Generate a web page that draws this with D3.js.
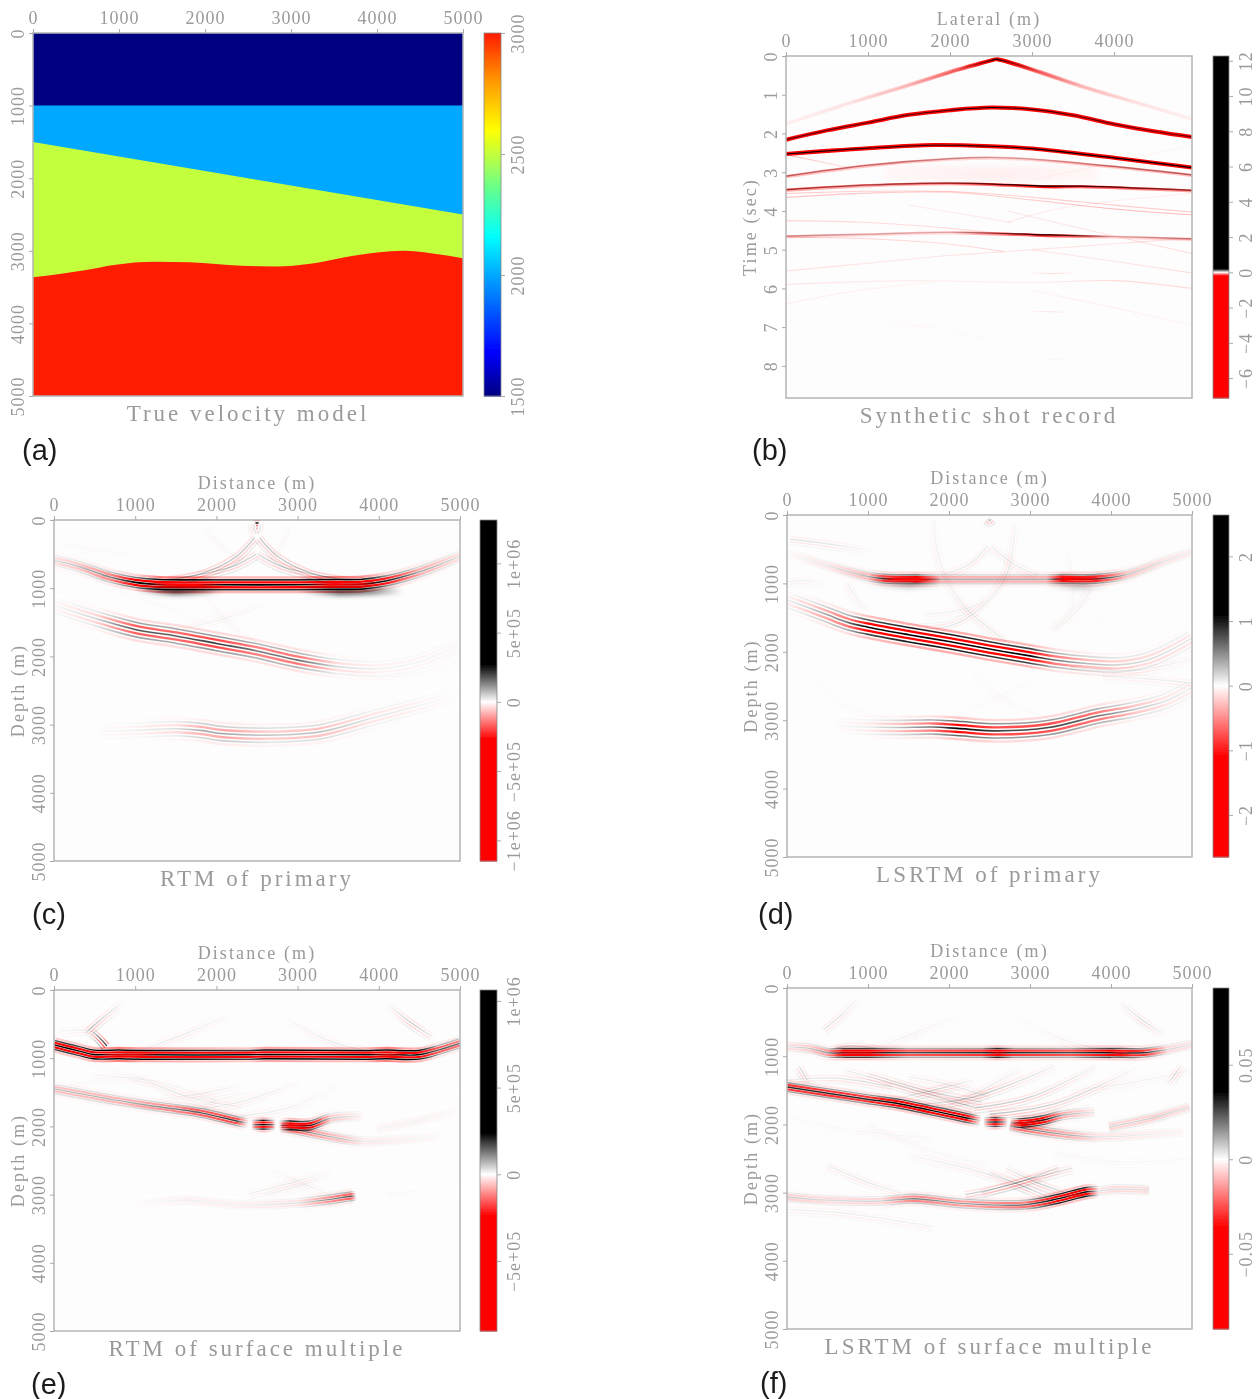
<!DOCTYPE html>
<html>
<head>
<meta charset="utf-8">
<script src="https://cdn.jsdelivr.net/npm/d3@7"></script>
<style>
  html, body { margin: 0; background: #fff; }
  text { font-family: "Liberation Serif", serif; fill: #9a9a9a; }
  .tag { font-family: "Liberation Sans", sans-serif; fill: #1c1c1c; font-size: 29px; }
  .tick text { font-size: 18px; letter-spacing: 1px; }
  .axlab { font-size: 18px; letter-spacing: 2.1px; }
  .title { font-size: 23px; letter-spacing: 3px; }
  .domain { stroke: #b4b4b4; }
  .tick line { stroke: #aaa; }
</style>
</head>
<body>
<svg id="fig" width="1257" height="1399"></svg>
<script>
// ---- tick labels and axis ranges
var distTicks = [0, 1000, 2000, 3000, 4000, 5000];
var lateralTicks = [0, 1000, 2000, 3000, 4000];
var timeTicks = [0, 1, 2, 3, 4, 5, 6, 7, 8];

var velTicks = [1500, 2000, 2500, 3000];
var barB = [12, 10, 8, 6, 4, 2, 0, -2, -4, -6];
var barC = [1e6, 5e5, 0, -5e5, -1e6];
var barCLabels = ['1e+06', '5e+05', '0', '\u22125e+05', '\u22121e+06'];
var barD = [2, 1, 0, -1, -2];
var barE = [1e6, 5e5, 0, -5e5];
var barELabels = ['1e+06', '5e+05', '0', '\u22125e+05'];
var barF = [0.05, 0, -0.05];
var barFLabels = ['0.05', '0', '\u22120.05'];

// ---- velocity model (a)
var layerVel = [1500, 2000, 2500, 3000];
var layerTop0 = [[0, 0], [5000, 0]];
var layerTop1 = [[0, 1000], [5000, 1000]];
var layerTop2 = [[0, 1500], [5000, 2500]];
var layerTop3 = [[0, 3364], [620, 3263], [940, 3194], [1420, 3150], [1823, 3157], [2424, 3207],
                 [2825, 3217], [3225, 3180], [3626, 3088], [4026, 3019], [4307, 3001], [4627, 3033], [5000, 3102]];
var jetVals = [1500, 1680, 2000, 2159, 2350, 2500, 2600, 2800, 3000];
var jetCols = ['#000080', '#0000ff', '#00a8ff', '#00ffff', '#60ff90', '#c4ff3c', '#ffff00', '#ff9900', '#ff1a00'];

// ---- events are [x, depth or time, amplitude]
// shot record (b)
var bDirectL = [[0, 1.75, 0.008], [800, 1.2, 0.015], [1500, 0.75, 0.04], [2100, 0.35, 0.1], [2400, 0.17, 0.45], [2560, 0.08, 2]];
var bDirectR = [[2560, 0.08, 2], [2720, 0.16, 0.45], [3100, 0.42, 0.1], [3600, 0.78, 0.04], [4300, 1.22, 0.015], [4950, 1.63, 0.008]];
var bRefl1 = [[0, 2.16, 0.6], [500, 1.92, 0.6], [1000, 1.72, 0.6], [1500, 1.52, 0.65], [2000, 1.4, 0.8], [2500, 1.33, 1],
              [3000, 1.38, 0.8], [3500, 1.53, 0.65], [4000, 1.76, 0.6], [4500, 1.95, 0.6], [4950, 2.09, 0.6]];
var bRefl2 = [[0, 2.53, 1], [500, 2.45, 0.9], [1000, 2.38, 0.8], [1800, 2.3, 0.7], [2500, 2.33, 0.9], [3000, 2.39, 1],
              [4000, 2.63, 1], [4950, 2.88, 1]];
var bRefl3 = [[0, 3.1, 0.1], [1000, 2.82, 0.09], [2000, 2.65, 0.07], [2500, 2.62, 0.06], [3000, 2.66, 0.06], [4000, 2.85, 0.09], [4950, 3.07, 0.1]];
var bRefl4 = [[0, 3.45, 0.14], [1000, 3.33, 0.12], [2000, 3.28, 0.14], [2700, 3.32, 0.25], [3200, 3.36, 1], [3600, 3.36, 0.25], [4950, 3.47, 0.14]];
var bRefl5 = [[0, 4.65, 0.07], [1000, 4.6, 0.05], [2000, 4.55, 0.05], [3200, 4.62, 0.3], [4000, 4.66, 0.05], [4950, 4.72, 0.08]];
var bWeak = [
  [[0, 3.65, 0.07], [1000, 3.54, 0.06], [2000, 3.52, 0.05], [3000, 3.72, 0.06], [4000, 3.95, 0.08], [4950, 4.1, 0.08]],
  [[0, 3.55, 0.07], [1000, 3.49, 0.05], [2000, 3.5, 0.06], [3000, 3.65, 0.05], [4000, 3.85, 0.06], [4950, 4.03, 0.07]],
  [[0, 4.25, 0.05], [1000, 4.3, 0.04], [2000, 4.45, 0.04], [2800, 4.62, 0.04]],
  [[0, 4.68, 0.05], [1000, 4.72, 0.05], [2000, 4.86, 0.04], [2650, 5.05, 0.05]],
  [[0, 5.55, 0.04], [1000, 5.35, 0.03], [2000, 5.15, 0.03], [2700, 5.05, 0.03], [4000, 4.85, 0.03], [4950, 4.7, 0.04]],
  [[2700, 4.0, 0.03], [3800, 4.55, 0.03], [4950, 5.1, 0.04]],
  [[3000, 5.0, 0.03], [4000, 5.3, 0.03], [4950, 5.6, 0.04]],
  [[1500, 3.85, 0.02], [2200, 4.1, 0.025], [2750, 4.3, 0.03]],
  [[2700, 4.3, 0.03], [3300, 3.95, 0.02], [4950, 3.55, 0.02]],
  [[0, 5.9, 0.03], [1500, 5.8, 0.02], [3000, 5.85, 0.02], [4000, 5.8, 0.04], [4950, 6, 0.04]],
  [[3000, 5.6, 0.01], [3250, 5.62, 0.04], [3500, 5.6, 0.01]],
  [[3000, 6.6, 0.01], [3200, 6.6, 0.03], [3400, 6.62, 0.01]],
  [[3000, 7.85, 0.005], [3300, 7.84, 0.015], [3500, 7.85, 0.005]],
  [[0, 6.4, 0.02], [900, 6.05, 0.02], [1800, 5.85, 0.012]],
  [[3000, 6.05, 0.015], [4000, 6.5, 0.02], [4950, 6.95, 0.012]],
  [[0, 2.55, 0.08], [350, 2.7, 0.06], [750, 2.88, 0.03]],
  [[3000, 3.2, 0.012], [4000, 2.75, 0.012], [4950, 2.3, 0.012]],
  [[0, 7.1, 0.006], [2500, 6.95, 0.008], [4950, 7.2, 0.006]],
  [[0, 8.2, 0.004], [2500, 8.05, 0.006], [4950, 8.3, 0.004]],
  [[800, 6.6, 0.006], [2200, 7.2, 0.008], [3600, 7.6, 0.005]],
  [[2000, 6.1, 0.006], [3400, 6.3, 0.006], [4950, 6.2, 0.006]]
];
var bHaze = [[1200, 3.02, -0.006], [2500, 3.05, -0.012], [3800, 3.02, -0.006]];

// RTM of primary (c)
var cFlat = [[0, 590, 3.5e4], [300, 680, 6e4], [700, 840, 1.3e5], [1000, 915, 3e5], [1300, 945, 9e5], [1700, 950, 9e5], [2000, 950, 5e5],
             [3000, 950, 5e5], [3400, 945, 9e5], [3800, 940, 8e5], [4100, 890, 2.5e5], [4500, 760, 9e4], [5000, 530, 3e4]];
var cDip = [[0, 1250, 5e3], [500, 1440, 3e4], [1000, 1605, 1.3e5], [1500, 1700, 1.2e5], [2000, 1810, 1.5e5], [2500, 1920, 1e5],
            [3000, 2055, 1.1e5], [3500, 2150, 2.5e4], [4000, 2180, 1e4], [4500, 2080, 8e3], [5000, 1810, 5e3]];
var cDeep = [[575, 3100, 4e3], [1000, 3085, 1e4], [1500, 3060, 2.5e4], [1800, 3085, 6e4], [2100, 3135, 7e4], [2660, 3155, 4e4],
             [3285, 3105, 5e4], [3900, 2910, 2e4], [4740, 2640, 5e3], [5000, 2530, 2e3]];
var cSoft = [
  [[1000, 1000, 0], [1500, 1045, 2e5], [1900, 1030, 8e4], [2100, 1010, 0]],
  [[3000, 1010, 0], [3500, 1055, 1.8e5], [3900, 1045, 1.5e5], [4300, 1040, 0]]
];
var cHot = [
  [[1150, 935, 0], [1400, 945, 2.7e5], [1750, 950, 2.7e5], [2100, 950, 0]],
  [[3100, 950, 0], [3400, 945, 2.7e5], [3800, 942, 2e5], [4000, 925, 0]]
];
var cArcs = [
  [[2480, 50, 3e5], [2500, 40, 5e5], [2520, 50, 3e5]],
  [[2470, 60, 3e4], [2460, 130, 5e4], [2490, 200, 5e4]],
  [[2530, 60, 3e4], [2540, 130, 5e4], [2510, 200, 5e4]],
  [[1408, 880, 6e4], [1825, 783, 1e5], [2242, 538, 9e4], [2470, 260, 8e4]],
  [[2530, 260, 8e4], [2760, 538, 9e4], [3175, 783, 1e5], [3590, 880, 6e4]],
  [[1300, 880, 4e4], [1700, 820, 7e4], [2200, 680, 9e4], [2490, 500, 6e4]],
  [[2510, 500, 6e4], [2800, 680, 9e4], [3300, 820, 7e4], [3700, 880, 4e4]],
  [[1900, 100, 1.2e4], [2000, 300, 1.6e4], [2300, 600, 1.6e4]],
  [[2900, 100, 1.2e4], [2850, 300, 1.6e4], [2650, 600, 1.6e4]],
  [[2600, 1250, 1.2e4], [2000, 1480, 2e4], [1400, 1650, 2e4]],
  [[1900, 1100, 1e4], [2100, 1450, 1.6e4], [2500, 1800, 1e4]],
  [[700, 1000, 8e3], [1300, 1250, 8e3], [1900, 1500, 8e3]],
  [[100, 350, 1e4], [500, 420, 1.2e4], [1000, 520, 6e3]],
  [[3400, 150, 4e3], [3800, 300, 4e3], [4300, 520, 4e3]],
  [[3300, 1400, 4e3], [3800, 1150, 4e3], [4500, 1000, 4e3]],
  [[3600, 2250, 8e3], [4300, 2290, 8e3], [5000, 2060, 8e3]],
  [[1200, 2200, 3e3], [2200, 2700, 3e3], [3000, 2900, 2e3]],
  [[4200, 2300, 3e3], [3500, 2600, 3e3], [2900, 3000, 2e3]],
  [[3900, 1700, 4e3], [4400, 1850, 4e3], [5000, 2400, 3e3]]
];

// LSRTM of primary (d)
var dFlat = [[0, 560, 0.02], [500, 740, 0.1], [1000, 900, 0.3], [1200, 930, 0.9], [1600, 940, 1.2], [1900, 940, 0.35], [3200, 940, 0.35],
             [3400, 935, 1.1], [3800, 935, 1], [4200, 870, 0.25], [4600, 700, 0.12], [5000, 540, 0.07]];
var dDip = [[0, 1240, 0.06], [250, 1350, 0.2], [500, 1460, 0.4], [750, 1570, 0.6], [1000, 1640, 1.4], [1500, 1750, 1.8], [2000, 1850, 1.8],
            [2500, 1960, 1.6], [3000, 2060, 1.5], [3300, 2120, 0.6], [3700, 2170, 0.3], [4100, 2190, 0.2], [4500, 2100, 0.15], [5000, 1800, 0.1]];
var dDeep = [[600, 3080, 0.02], [1000, 3100, 0.08], [1367, 3107, 0.25], [1800, 3100, 0.6], [2100, 3120, 1.2], [2610, 3156, 0.8],
             [3230, 3107, 0.8], [3850, 2936, 0.6], [4300, 2840, 0.25], [4680, 2717, 0.12], [5000, 2520, 0.06]];
var dSoft = [
  [[1000, 990, 0], [1500, 1020, 0.3], [1900, 1010, 0]],
  [[3200, 1010, 0], [3600, 1040, 0.25], [4000, 1030, 0]]
];
var dHot = [
  [[1150, 935, 0], [1350, 940, 1.1], [1650, 942, 1.1], [1900, 942, 0]],
  [[3250, 940, 0], [3450, 935, 1.1], [3750, 935, 0.8], [3950, 930, 0]]
];
var dArcs = [
  [[1820, 80, 0.05], [1850, 500, 0.08], [2000, 1000, 0.08], [2200, 1350, 0.12], [2700, 1850, 0.12]],
  [[2820, 150, 0.06], [2730, 815, 0.14], [2530, 1200, 0.1], [2070, 1600, 0.14], [1490, 1680, 0.12]],
  [[745, 1000, 0.08], [850, 1200, 0.08], [1000, 1400, 0.05]],
  [[3480, 570, 0.03], [3530, 1000, 0.05], [3500, 1400, 0.05], [3270, 1690, 0.06]],
  [[3750, 1060, 0.08], [3650, 1300, 0.08], [3300, 1700, 0.05]],
  [[40, 350, 0.15], [500, 420, 0.14], [1035, 520, 0.03]],
  [[1900, 880, 0.1], [2250, 720, 0.12], [2480, 450, 0.1]],
  [[2520, 450, 0.1], [2800, 720, 0.12], [3100, 880, 0.1]],
  [[2480, 60, 0.4], [2500, 90, 0.25], [2520, 60, 0.4]],
  [[3900, 2360, 0.08], [4500, 2400, 0.1], [5000, 2460, 0.1]],
  [[3500, 2220, 0.12], [4300, 2270, 0.1], [5000, 2100, 0.06]],
  [[1500, 3300, 0.015], [2700, 2600, 0.04], [3300, 2300, 0.015]],
  [[2300, 2300, 0.03], [2700, 2700, 0.04], [3300, 3000, 0.015]],
  [[0, 1800, 0.015], [600, 2700, 0.03], [1500, 3050, 0.03]],
  [[0, 980, 0.08], [200, 960, 0.1], [500, 1000, 0.01]],
  [[4050, 4300, 0.01], [4400, 4380, 0.015], [4800, 4400, 0.01]],
  [[3000, 1550, 0.02], [3900, 1500, 0.025], [5000, 1100, 0.02]],
  [[600, 2000, 0.015], [1500, 2500, 0.02], [2400, 2800, 0.015]],
  [[1700, 1450, 0.06], [2100, 1400, 0.08], [2500, 1250, 0.04]]
];

// RTM of surface multiple (e)
var eFlat = [[0, 805, 4e5], [325, 900, 4e5], [490, 945, 6e5], [800, 945, 1e6], [1100, 950, 7e5], [2400, 950, 4e5], [2600, 945, 7e5],
             [3800, 950, 5e5], [4100, 945, 1e6], [4490, 950, 6e5], [4740, 878, 1.6e5], [5000, 780, 1.3e5]];
var eDip = [[0, 1450, 6e4], [990, 1660, 8e4], [1500, 1745, 1.2e5], [1825, 1805, 1.6e5], [2250, 1920, 1.8e5], [2390, 1955, 1e4]];
var eBlob1 = [[2430, 1975, 1e4], [2480, 1975, 1.5e5], [2575, 1975, 5e5], [2680, 1975, 1.5e5], [2730, 1975, 1e4]];
var eBlob2 = [[2770, 1985, 1e4], [2820, 1985, 1.5e5], [2908, 1985, 5e5], [3158, 1985, 3e5], [3408, 1880, 5e4], [3800, 1850, 1e4]];
var eLower = [[2800, 2010, 5e4], [2990, 2050, 1.2e5], [3490, 2170, 6e4], [3825, 2220, 2e4], [4740, 2147, 6e3]];
var eUpper = [[3975, 2040, 1e4], [4533, 1903, 1.2e4], [4950, 1780, 6e3]];
var eDeep = [[990, 3148, 3e3], [1617, 3084, 1.4e4], [2240, 3148, 1.4e4], [2990, 3123, 2.5e4], [3400, 3070, 1.1e5], [3658, 3025, 1.6e5], [3720, 3020, 1e4]];
var eHot = [
  [[550, 950, 0], [750, 950, 2e5], [1050, 950, 2e5], [1300, 950, 0]],
  [[3900, 950, 0], [4100, 950, 2e5], [4350, 950, 0]],
  [[2780, 1985, 0], [2900, 1985, 2.4e5], [3050, 1985, 2e5], [3200, 1970, 0]]
];
var eArcs = [
  [[40, 620, 1e4], [250, 590, 2e4], [452, 600, 3e4], [650, 820, 3e5]],
  [[380, 640, 2e4], [452, 560, 1e5], [640, 370, 5e4], [862, 161, 8e3]],
  [[4117, 220, 1.2e4], [4408, 488, 8e4], [4658, 683, 3e4]],
  [[1075, 880, 2e4], [1600, 650, 3e4], [2160, 366, 1e4]],
  [[2866, 415, 1e4], [3408, 756, 3e4], [3908, 900, 3e4]],
  [[1000, 1250, 1e4], [1600, 1550, 2e4], [2300, 1720, 2e4]],
  [[500, 1250, 1e4], [1300, 1350, 1.5e4], [2000, 1620, 2e4]],
  [[1300, 1600, 1e4], [1900, 1500, 3e4], [2300, 1400, 1e4]],
  [[1700, 1750, 1e4], [2300, 1640, 3e4], [3000, 1350, 1e4]],
  [[2300, 1850, 3e4], [2900, 1720, 2e4], [3500, 1400, 1e4]],
  [[2400, 2990, 2e4], [3000, 2800, 3e4], [3400, 2650, 1e4]],
  [[2700, 2650, 1e4], [3100, 2850, 2e4], [3400, 3000, 1e4]],
  [[0, 3080, 5e3], [500, 3200, 4e3], [1000, 3500, 4e3]],
  [[4100, 2980, 1e4], [4500, 2950, 6e3], [5000, 3000, 2e3]],
  [[3400, 1400, 4e3], [4200, 1300, 5e3], [4900, 1100, 3e3]],
  [[800, 2000, 3e3], [1700, 2400, 4e3], [2600, 2700, 3e3]],
  [[0, 1000, 3e3], [700, 1150, 8e3], [1500, 1500, 6e3]],
  [[200, 1400, 1.2e4], [600, 1300, 1e4], [1100, 1280, 6e3]],
  [[3700, 1700, 4e3], [4400, 1650, 4e3], [5000, 1500, 3e3]],
  [[900, 1300, 8e3], [1400, 1450, 1.2e4], [1900, 1750, 1e4]],
  [[1600, 1800, 8e3], [2000, 1620, 2e4], [2500, 1480, 8e3]],
  [[2600, 3000, 1.2e4], [2950, 2890, 2e4], [3250, 2780, 1e4]]
];

// LSRTM of surface multiple (f)
var fFlat = [[0, 860, 0.004], [300, 890, 0.008], [500, 950, 0.015], [700, 950, 0.06], [1000, 950, 0.06], [1500, 950, 0.025], [2400, 950, 0.03],
             [2600, 950, 0.07], [2800, 950, 0.03], [3500, 950, 0.025], [4000, 950, 0.06], [4400, 950, 0.03], [4700, 900, 0.006], [5000, 830, 0.004]];
var fDip = [[0, 1452, 0.03], [953, 1623, 0.03], [1400, 1700, 0.055], [1780, 1794, 0.05], [2220, 1905, 0.05], [2390, 1945, 0.004]];
var fBlob1 = [[2430, 1965, 0.004], [2480, 1965, 0.02], [2570, 1965, 0.06], [2660, 1965, 0.02], [2720, 1965, 0.004]];
var fBlob2 = [[2760, 1979, 0.004], [2820, 1979, 0.02], [2900, 1979, 0.06], [3150, 1940, 0.05], [3400, 1867, 0.012], [3800, 1820, 0.003]];
var fLower = [[2750, 2020, 0.01], [2940, 2062, 0.02], [3440, 2150, 0.012], [3850, 2185, 0.004], [4890, 2110, 0.0015]];
var fUpper = [[3975, 2038, 0.006], [4470, 1916, 0.007], [4970, 1745, 0.004]];
var fDeep = [[0, 3064, 0.007], [540, 3113, 0.005], [1160, 3123, 0.006], [1575, 3089, 0.018], [2195, 3162, 0.014], [2940, 3177, 0.02],
             [3354, 3089, 0.07], [3686, 2991, 0.07], [3850, 2975, 0.004], [4060, 2950, 0.005], [4470, 2965, 0.005]];
var fHot = [
  [[550, 950, 0], [750, 950, 0.028], [1000, 950, 0.028], [1250, 950, 0]],
  [[2450, 950, 0], [2600, 950, 0.024], [2750, 950, 0]],
  [[3900, 950, 0], [4100, 950, 0.024], [4300, 950, 0]],
  [[2780, 1979, 0], [2900, 1979, 0.036], [3050, 1965, 0.03], [3200, 1930, 0]],
  [[3400, 3060, 0], [3550, 3030, 0.03], [3680, 2995, 0]]
];
var fArcs = [
  [[450, 610, 0.006], [640, 430, 0.006], [860, 170, 0.002]],
  [[4120, 220, 0.002], [4410, 490, 0.008], [4660, 680, 0.002]],
  [[600, 880, 0.006], [800, 850, 0.008], [1100, 880, 0.006]],
  [[1075, 880, 0.002], [1600, 650, 0.003], [2160, 366, 0.001]],
  [[2866, 415, 0.001], [3408, 756, 0.003], [3908, 900, 0.003]],
  [[150, 1150, 0.006], [200, 1250, 0.01], [280, 1400, 0.004]],
  [[4700, 1400, 0.004], [4800, 1250, 0.008], [4870, 1130, 0.003]],
  [[0, 1350, 0.004], [600, 1320, 0.006], [1300, 1450, 0.006]],
  [[700, 1200, 0.003], [1300, 1400, 0.008], [2300, 1750, 0.01]],
  [[1000, 1250, 0.004], [1700, 1500, 0.01], [2400, 1670, 0.008]],
  [[1700, 1700, 0.005], [2300, 1600, 0.012], [3300, 1150, 0.003]],
  [[2300, 1760, 0.012], [3000, 1600, 0.01], [3800, 1150, 0.003]],
  [[2500, 1850, 0.014], [3300, 1700, 0.01], [4300, 1180, 0.002]],
  [[1300, 1640, 0.003], [1800, 1500, 0.01], [2300, 1350, 0.002]],
  [[2200, 3030, 0.01], [2800, 2870, 0.012], [3350, 2630, 0.006]],
  [[2400, 3000, 0.008], [3000, 2800, 0.012], [3520, 2640, 0.006]],
  [[2700, 2640, 0.004], [3100, 2860, 0.012], [3440, 3000, 0.006]],
  [[2500, 2700, 0.004], [2900, 2900, 0.012], [3200, 3050, 0.006]],
  [[500, 2600, 0.004], [1000, 2850, 0.005], [1400, 3000, 0.003]],
  [[1500, 2450, 0.002], [2400, 2700, 0.005], [3000, 2950, 0.004]],
  [[0, 3250, 0.003], [700, 3300, 0.004], [1800, 3500, 0.003]],
  [[1000, 2000, 0.002], [1800, 2400, 0.002], [2500, 2600, 0.002]],
  [[3500, 1500, 0.002], [4200, 1400, 0.003], [5000, 1200, 0.002]],
  [[0, 1900, 0.001], [900, 2100, 0.002], [1800, 2200, 0.002]],
  [[3300, 2400, 0.002], [4100, 2550, 0.002], [5000, 2500, 0.001]],
  [[2000, 1720, 0.005], [2400, 1500, 0.006], [2900, 1180, 0.002]],
  [[1500, 1300, 0.003], [2000, 1420, 0.005], [2500, 1600, 0.005]]
];

// vertical lobes of the wavelet: offset along the normal, relative weight
var cLobes = [[-108, -0.15], [-72, 0.45], [-36, -0.95], [0, 1], [36, -0.95], [72, 0.45], [108, -0.15]];
var dLobes = [[-96, -0.15], [-64, 0.45], [-32, -0.95], [0, 1], [32, -0.95], [64, 0.45], [96, -0.15]];
var eLobes = [[-96, -0.12], [-64, 0.45], [-32, -0.95], [0, 1], [32, -0.95], [64, 0.45], [96, -0.12]];
var cWideLobes = [[-156, -0.28], [-104, 0.75], [-52, -1.3], [0, 1.4], [52, -1.3], [104, 0.75], [156, -0.28]];
var dWideLobes = [[-156, -0.2], [-104, 0.55], [-52, -0.95], [0, 1], [52, -0.95], [104, 0.55], [156, -0.2]];
var thinLobes = [[-40, -0.3], [0, 0.5], [40, -0.45], [80, 0.2]];
var shotLobes = [[-0.03, -1], [0, -1], [0, 0.2], [0.03, -1]];
var shotThinLobes = [[0, -1], [0, 0.6], [0.035, -0.5]];
var shotWeakLobes = [[0, -0.7]];

// ---- layout
var panels = [
  {id: 'b', left: 786, right: 1192, top: 56, bottom: 398, barL: 1213, barR: 1229, xMax: 4950, yMax: 8.83, xT: lateralTicks, yT: timeTicks,
   xLab: 'Lateral (m)', yLab: 'Time (sec)', title: 'Synthetic shot record', tagX: 752, tagY: 460,
   barTop: 12.27, barBot: -7.13, clip: 0.2, barT: barB, barL2: null,
   events: [bRefl2, bRefl1, bDirectL, bDirectR], wideEvents: [bRefl5, bRefl4, bRefl3], wideLobes: shotThinLobes, hot: [], hotW: 2,
   weak: bWeak, weakGain: 1, soft: [bHaze], softW: 16, lobes: shotLobes, weakLobes: shotWeakLobes, sw: 1.5},
  {id: 'c', left: 54, right: 460, top: 520, bottom: 861, barL: 480, barR: 497, xMax: 5000, yMax: 5000, xT: distTicks, yT: distTicks,
   xLab: 'Distance (m)', yLab: 'Depth (m)', title: 'RTM of primary', tagX: 32, tagY: 924,
   barTop: 1.313e6, barBot: -1.149e6, clip: 2.7e5, barT: barC, barL2: barCLabels,
   events: [cFlat], wideEvents: [cDip, cDeep], wideLobes: cWideLobes, hot: cHot, hotW: 2.6, weak: cArcs, weakGain: 1.3, soft: cSoft, softW: 6, lobes: cLobes, weakLobes: thinLobes, sw: 2},
  {id: 'd', left: 787, right: 1192, top: 515, bottom: 857, barL: 1213, barR: 1229, xMax: 5000, yMax: 5000, xT: distTicks, yT: distTicks,
   xLab: 'Distance (m)', yLab: 'Depth (m)', title: 'LSRTM of primary', tagX: 758, tagY: 924,
   barTop: 2.64, barBot: -2.65, clip: 1.1, barT: barD, barL2: ['2', '1', '0', '\u22121', '\u22122'],
   events: [dFlat], wideEvents: [dDip, dDeep], wideLobes: dWideLobes, hot: dHot, hotW: 2.2, weak: dArcs, weakGain: 1.5, soft: dSoft, softW: 6, lobes: dLobes, weakLobes: thinLobes, sw: 2},
  {id: 'e', left: 54, right: 460, top: 990, bottom: 1331, barL: 480, barR: 497, xMax: 5000, yMax: 5000, xT: distTicks, yT: distTicks,
   xLab: 'Distance (m)', yLab: 'Depth (m)', title: 'RTM of surface multiple', tagX: 31, tagY: 1394,
   barTop: 1.063e6, barBot: -9.04e5, clip: 2.4e5, barT: barE, barL2: barELabels,
   events: [eFlat, eDip, eBlob1, eBlob2, eLower, eUpper, eDeep], wideEvents: [], wideLobes: [], hot: eHot, hotW: 2.1, weak: eArcs, weakGain: 1.3, soft: [], softW: 6, lobes: eLobes, weakLobes: thinLobes, sw: 1.8},
  {id: 'f', left: 787, right: 1192, top: 988, bottom: 1329, barL: 1213, barR: 1229, xMax: 5000, yMax: 5000, xT: distTicks, yT: distTicks,
   xLab: 'Distance (m)', yLab: 'Depth (m)', title: 'LSRTM of surface multiple', tagX: 760, tagY: 1393,
   barTop: 0.0906, barBot: -0.0898, clip: 0.036, barT: barF, barL2: barFLabels,
   events: [fFlat, fDip, fBlob1, fBlob2, fLower, fUpper, fDeep], wideEvents: [], wideLobes: [], hot: fHot, hotW: 2, weak: fArcs, weakGain: 1.3, soft: [], softW: 6, lobes: eLobes, weakLobes: thinLobes, sw: 1.8}
];

var svg = d3.select('#fig');
var defs = svg.append('defs');
defs.append('filter').attr('id', 'img').attr('x', '-5%').attr('y', '-5%').attr('width', '110%').attr('height', '110%')
  .append('feGaussianBlur').attr('stdDeviation', 0.55);
defs.append('filter').attr('id', 'wide').attr('filterUnits', 'userSpaceOnUse').attr('x', 0).attr('y', 0).attr('width', 1257).attr('height', 1399)
  .append('feGaussianBlur').attr('stdDeviation', 2.4);
defs.append('filter').attr('id', 'txt').attr('x', '-5%').attr('y', '-5%').attr('width', '110%').attr('height', '110%')
  .append('feGaussianBlur').attr('stdDeviation', 0.35);

var uid = 0;

// frame, ticks, labels: same for all six
function drawAxes(g, p, x, y) {
  g.append('rect').attr('x', p.left).attr('y', p.top).attr('width', p.right - p.left).attr('height', p.bottom - p.top)
    .attr('fill', 'none').attr('stroke', '#b4b4b4').attr('stroke-width', 1.5);

  var top = g.append('g').attr('transform', 'translate(0,' + p.top + ')')
    .call(d3.axisTop(x).tickValues(p.xT).tickSize(4).tickPadding(5).tickFormat(d3.format('d')));
  var left = g.append('g').attr('transform', 'translate(' + p.left + ',0)')
    .call(d3.axisLeft(y).tickValues(p.yT).tickSize(4).tickFormat(d3.format('d')));
  left.selectAll('text').attr('x', 0).attr('dy', 0).attr('text-anchor', 'middle')
    .attr('transform', 'translate(-9,0) rotate(-90)');
  top.select('.domain').remove();
  left.select('.domain').remove();

  var midX = (p.left + p.right) / 2, midY = (p.top + p.bottom) / 2;
  if (p.xLab) {
    g.append('text').attr('class', 'axlab').attr('x', midX).attr('y', p.top - 31).attr('text-anchor', 'middle').text(p.xLab);
    g.append('text').attr('class', 'axlab').attr('text-anchor', 'middle')
      .attr('transform', 'translate(' + (p.left - 30) + ',' + midY + ') rotate(-90)').text(p.yLab);
  }
  g.append('text').attr('class', 'title').attr('x', midX).attr('y', p.bottom + 25).attr('text-anchor', 'middle').text(p.title);
}

function drawBar(g, p, color, labels) {
  var b = d3.scaleLinear().domain([p.barTop, p.barBot]).range([p.top, p.bottom]);
  var rows = d3.range(p.top, p.bottom);
  g.selectAll('rect.cell').data(rows).enter().append('rect').attr('class', 'cell')
    .attr('x', p.barL).attr('width', p.barR - p.barL)
    .attr('y', function (d) { return d; }).attr('height', 1.5)
    .attr('fill', function (d) { return color(b.invert(d + 0.5)); });
  g.append('rect').attr('x', p.barL).attr('y', p.top).attr('width', p.barR - p.barL).attr('height', p.bottom - p.top)
    .attr('fill', 'none').attr('stroke', '#888').attr('stroke-width', 0.8);
  var ax = g.append('g').attr('transform', 'translate(' + p.barR + ',0)')
    .call(d3.axisRight(b).tickValues(p.barT).tickSize(4)
      .tickFormat(function (d, i) { return labels ? labels[i] : String(d).replace('-', '\u2212'); }));
  ax.select('.domain').remove();
  ax.selectAll('text').attr('x', 0).attr('dy', 0).attr('text-anchor', 'middle')
    .attr('transform', 'translate(23,0) rotate(-90)');
}

// one lobe of one event, coloured along x through the panel's colour map
function drawLobe(g, ev, lobe, x, y, color, width, hotClip) {
  var unit = Math.abs(y(1) - y(0));
  var pts = ev.map(function (d, i) {
    var a = ev[Math.max(i - 1, 0)], b = ev[Math.min(i + 1, ev.length - 1)];
    var tx = x(b[0]) - x(a[0]), ty = y(b[1]) - y(a[1]), n = Math.hypot(tx, ty) || 1;
    return [x(d[0]) - ty / n * lobe[0] * unit, y(d[1]) + tx / n * lobe[0] * unit, d[2]];
  });
  var px = pts.map(function (d) { return d[0]; });
  var lo = d3.min(px), hi = Math.max(d3.max(px), lo + 1);
  var id = 'lobe' + (uid++);
  var grad = defs.append('linearGradient').attr('id', id).attr('gradientUnits', 'userSpaceOnUse')
    .attr('x1', lo).attr('x2', hi).attr('y1', 0).attr('y2', 0);
  pts.slice().sort(function (a, b) { return a[0] - b[0]; }).forEach(function (d) {
    var stop = grad.append('stop').attr('offset', (d[0] - lo) / (hi - lo));
    if (hotClip) stop.attr('stop-color', '#ff0000').attr('stop-opacity', Math.min(1, d[2] / hotClip));
    else stop.attr('stop-color', color(d[2] * lobe[1]));
  });
  var path = g.append('path')
    .attr('d', d3.line().curve(d3.curveCatmullRom)(pts))
    .attr('fill', 'none').attr('stroke', 'url(#' + id + ')').attr('stroke-width', width);
  if (!hotClip) path.style('mix-blend-mode', 'multiply');
}

// ---- panel a
(function () {
  var p = {left: 33, right: 463, top: 33, bottom: 396, barL: 484, barR: 501, xT: distTicks, yT: distTicks,
           title: 'True velocity model', barTop: 3000, barBot: 1500, barT: velTicks};
  var g = svg.append('g').attr('filter', 'url(#txt)');
  var x = d3.scaleLinear().domain([0, 5000]).range([p.left, p.right]);
  var y = d3.scaleLinear().domain([0, 5000]).range([p.top, p.bottom]);
  var jet = d3.scaleLinear().domain(jetVals).range(jetCols);
  var area = d3.area().curve(d3.curveMonotoneX)
    .x(function (d) { return x(d[0]); }).y0(y(5000)).y1(function (d) { return y(d[1]); });
  [layerTop0, layerTop1, layerTop2, layerTop3].forEach(function (top, i) {
    g.append('path').attr('d', area(top)).attr('fill', jet(layerVel[i]));
  });
  drawAxes(g, p, x, y);
  drawBar(g, p, jet);
  g.append('text').attr('class', 'tag').attr('x', 22).attr('y', 460).text('(a)');
})();

// ---- panels b to f
panels.forEach(function (p) {
  var x = d3.scaleLinear().domain([0, p.xMax]).range([p.left, p.right]);
  var y = d3.scaleLinear().domain([0, p.yMax]).range([p.top, p.bottom]);
  var color = d3.scaleLinear().domain([-p.clip, 0, p.clip]).range(['#ff0000', '#ffffff', '#000000']).clamp(true);

  defs.append('clipPath').attr('id', 'clip' + p.id).append('rect')
    .attr('x', p.left).attr('y', p.top).attr('width', p.right - p.left).attr('height', p.bottom - p.top);

  var root = svg.append('g').attr('filter', 'url(#txt)');
  root.append('rect').attr('x', p.left).attr('y', p.top).attr('width', p.right - p.left).attr('height', p.bottom - p.top).attr('fill', '#fdfdfd');

  var image = root.append('g').attr('clip-path', 'url(#clip' + p.id + ')').append('g').attr('filter', 'url(#img)');
  var lobeWidth = function (l) { return p.sw * (l[1] < 0 ? 1.15 : 0.8); };

  p.soft.forEach(function (ev) {
    var s = image.append('g').attr('filter', 'url(#wide)');
    drawLobe(s, ev, [0, 1], x, y, color, p.softW);
  });
  p.weak.forEach(function (ev) {
    p.weakLobes.forEach(function (l) { drawLobe(image, ev, [l[0], l[1] * p.weakGain], x, y, color, p.sw * 0.7); });
  });
  p.wideEvents.forEach(function (ev) {
    p.wideLobes.forEach(function (l) { drawLobe(image, ev, l, x, y, color, lobeWidth(l)); });
  });
  p.events.forEach(function (ev) {
    p.lobes.forEach(function (l) { drawLobe(image, ev, l, x, y, color, lobeWidth(l)); });
  });
  p.hot.forEach(function (ev) {
    drawLobe(image, ev, [0, 1], x, y, color, p.hotW, p.clip);
  });

  drawAxes(root, p, x, y);
  drawBar(root, p, color, p.barL2);
  root.append('text').attr('class', 'tag').attr('x', p.tagX).attr('y', p.tagY).text('(' + p.id + ')');
});
</script>
</body>
</html>
